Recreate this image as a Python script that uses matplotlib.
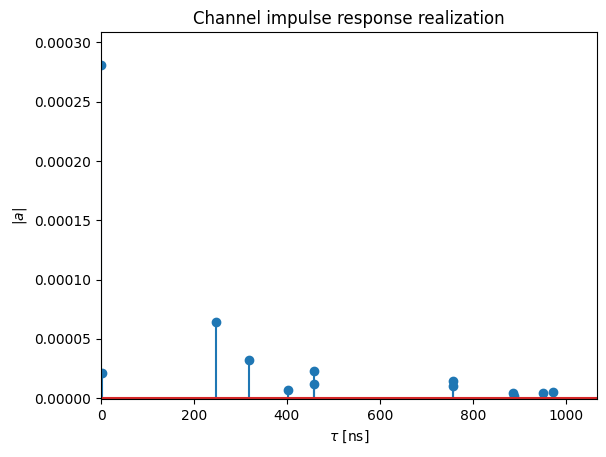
import matplotlib
matplotlib.use("Agg")
import matplotlib.pyplot as plt
import numpy as np

# path delays [ns] and magnitudes |a|
tau = [0, 2, 248, 318, 402, 458, 458, 758, 758, 886, 888, 952, 972]
a_abs = [2.807e-4, 2.13e-5, 6.45e-5, 3.21e-5, 6.6e-6, 2.27e-5, 1.17e-5,
         1.47e-5, 1.0e-5, 4.2e-6, 2.2e-6, 4.5e-6, 5.4e-6]
x_max = 1067

fig = plt.figure(figsize=(6.06, 4.57), dpi=100)
ax = fig.add_subplot(111)
fig.subplots_adjust(left=0.1667, right=0.985, top=0.930, bottom=0.127)

markers, stems, base = ax.stem(tau, a_abs)
base.set_xdata([0, x_max])
base.set_ydata([0, 0])
ax.set_title("Channel impulse response realization")
ax.set_xlabel(r"$\tau$ [ns]")
ax.set_ylabel(r"$|a|$")
ax.set_xlim(0, x_max)
ax.set_ylim(-6e-7, max(a_abs) * 1.1)

plt.savefig("out.png")
